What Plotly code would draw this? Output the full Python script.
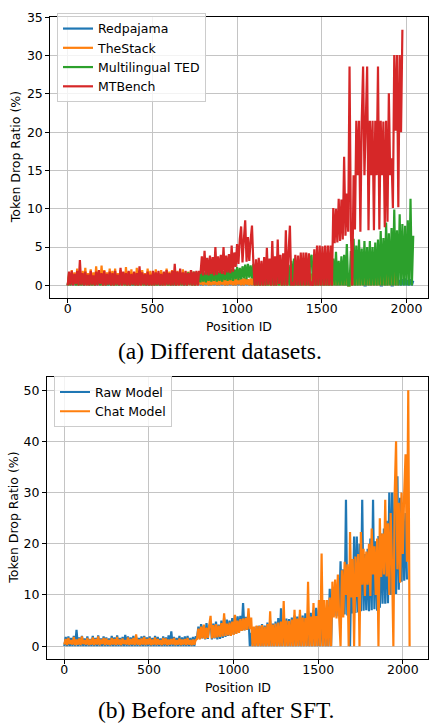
import plotly.graph_objects as go

# Token positions sampled every 8 tokens (0 ... 2040)
positions = list(range(0, 2048, 8))

# ---- (a) Token drop ratio (%) per dataset ----
redpajama = [
    0, 1.4, 0, 1.2, 0, 1.5, 0, 1.3, 0, 1.1, 0, 1.4, 0, 1.2, 0, 1.5,
    0, 1.3, 0, 1.5, 0, 1.2, 0, 1.4, 0, 1.6, 0, 1.3, 0, 1.2, 0, 1.4,
    0, 1.2, 0, 1.4, 0, 1.3, 0, 1.5, 0, 1.2, 0, 1.4, 0, 1.3, 0, 1.1,
    0, 1.4, 0, 1.2, 0, 1.5, 0, 1.3, 0, 1.4, 0, 1.2, 0, 1.5, 0, 1.3,
    0, 1.3, 0, 1.4, 0, 1.2, 0, 1.5, 0, 1.3, 0, 1.4, 0, 1.2, 0, 1.3,
    0, 1.2, 0, 1.4, 0, 1.3, 0, 1.2, 0, 1.4, 0, 1.3, 0, 1.2, 0, 1.1,
    0, 0.8, 0, 0.7, 0, 0.9, 0, 0.8, 0, 0.7, 0, 0.9, 0, 0.8, 0, 0.7,
    0, 0.9, 0, 0.8, 0, 0.7, 0, 0.9, 0, 0.8, 0, 0.7, 0, 0.9, 0, 0.8,
    0, 0.7, 0, 0.9, 0, 0.8, 0, 0.7, 0, 0.9, 0, 0.8, 0, 0.7, 0, 0.9,
    0, 0.8, 0, 0.7, 0, 0.9, 0, 0.8, 0, 0.7, 0, 0.8, 0, 0.9, 0, 0.7,
    0, 0.9, 0, 0.8, 0, 0.7, 0, 0.9, 0, 0.8, 0, 0.7, 0, 0.8, 0, 0.9,
    0, 0.8, 0, 0.9, 0, 0.7, 0, 0.8, 0, 0.9, 0, 0.7, 0, 0.8, 0, 0.9,
    0, 0.7, 0, 0.8, 0, 0.9, 0, 0.7, 0, 0.8, 0, 0.9, 0, 0.7, 0, 0.8,
    0, 0.9, 0, 0.8, 0, 0.7, 0, 0.9, 0, 0.8, 0.9, 0, 0, 0.8, 0, 0.7,
    0, 0.8, 0, 0.9, 0, 0.7, 1.0, 0, 0, 0.8, 0, 0.7, 0, 0.9, 1.1, 0,
    0, 0.8, 0, 0.9, 0, 0.7, 0, 0.8, 0, 0.9, 0, 0.7, 0, 0.8, 0, 0.6,
]

thestack = [
    0, 1.6, 0, 2.0, 0.1, 1.7, 0, 2.2, 0, 1.5, 0, 1.9, 0.1, 2.3, 0, 1.6,
    0, 2.1, 0, 1.7, 0, 2.5, 0.1, 1.8, 0, 2.6, 0, 2.0, 0, 1.7, 0.1, 2.2,
    0, 1.9, 0, 2.2, 0, 1.6, 0.1, 2.0, 0, 1.7, 0, 2.4, 0, 1.8, 0, 2.1,
    0.1, 1.7, 0, 2.3, 0, 1.9, 0, 2.0, 0, 1.6, 0.1, 2.2, 0, 1.9, 0, 1.7,
    0, 2.1, 0, 1.6, 0.1, 2.0, 0, 1.7, 0, 2.2, 0, 1.8, 0, 2.0, 0.1, 1.6,
    0, 1.9, 0, 1.6, 0, 2.1, 0.1, 1.7, 0, 1.8, 0, 2.0, 0, 1.6, 0, 1.8,
    0, 1.5, 0.1, 0.8, 0, 0.9, 0.1, 0.7, 0, 0.9, 0, 0.8, 0.1, 1.0, 0, 0.8,
    0, 0.9, 0.1, 0.8, 0, 1.0, 0, 0.9, 0.1, 0.8, 0, 0.9, 0, 1.0, 0.1, 0.9,
    0, 0.9, 0, 1.0, 0.1, 0.8, 0, 0.9, 0, 1.0, 0, 0.7, 0, 0.8, 0, 0.9,
    0, 0.8, 0, 0.9, 0, 0.7, 0, 0.8, 0, 0.9, 0, 0.8, 0, 0.7, 0, 0.9,
    0, 0.8, 0, 0.9, 0, 1.8, 0, 1.2, 0, 0.9, 0, 0.8, 0, 0.9, 0, 0.8,
    0, 0.9, 0, 1.3, 1.5, 0, 1.1, 0, 0.9, 0, 0.8, 0, 0.9, 0, 0.8, 0,
    0.9, 0, 0.8, 0, 1.4, 0, 1.2, 0, 1.6, 0, 1.3, 0, 1.1, 0, 1.4, 0,
    0, 1.2, 0, 1.5, 0, 1.0, 0, 3.0, 0, 1.3, 0, 1.4, 0, 1.8, 0, 1.2,
    0, 1.1, 0, 1.5, 0, 1.3, 0, 1.2, 0, 1.6, 0, 2.0, 0, 3.2, 0, 2.6,
    0, 2.2, 0, 1.4, 0,
]

multilingual_ted = [
    0, 1.2, 0, 1.0, 0.1, 1.3, 0, 0.9, 0, 1.2, 0, 1.1, 0, 1.0, 0.1, 1.3,
    0, 1.1, 0, 1.2, 0, 0.9, 0.1, 1.2, 0, 1.0, 0, 1.3, 0, 1.1, 0, 1.2,
    0, 1.0, 0, 1.2, 0, 1.3, 0, 1.1, 0.1, 1.2, 0, 1.0, 0, 1.3, 0, 1.1,
    0, 1.2, 0, 1.1, 0, 1.3, 0.1, 1.0, 0, 1.2, 0, 1.1, 0, 1.3, 0, 1.2,
    0, 1.1, 0, 1.3, 0, 1.2, 0, 1.4, 0.1, 1.2, 0, 1.3, 0, 1.5, 0, 1.4,
    0, 1.5, 0.1, 1.4, 0, 1.6, 0, 1.5, 0, 1.7, 0.1, 1.6, 0, 1.8, 0, 1.7,
    0.2, 1.6, 0.4, 1.9, 0.5, 1.7, 0.4, 2.0, 0.6, 1.8, 0.5, 1.9, 0.6, 2.1, 0.5, 1.8,
    0.6, 2.0, 0.5, 1.9, 0.7, 2.1, 0.6, 2.0, 0.7, 2.2, 0.6, 2.1, 0.8, 2.4, 0.7, 2.3,
    0.8, 2.5, 0.9, 2.7, 0.8, 2.8, 1.0, 2.6, 0.9, 2.8, 0, 2.2, 0, 2.5, 0, 2.3,
    0, 2.6, 0, 2.4, 0, 2.8, 0, 2.5, 0, 2.7, 0, 2.9, 0, 2.6, 0, 2.8,
    0, 3.0, 0, 2.7, 0, 3.2, 0, 3.5, 0, 3.1, 0, 3.3, 0, 2.9, 0, 3.2,
    0, 3.0, 0, 3.4, 4.0, 0, 3.6, 0, 3.2, 0, 3.5, 0, 3.3, 0, 3.6, 0,
    3.4, 0, 3.7, 0, 3.5, 0, 4.4, 0, 3.2, 0, 3.8, 0, 4.0, 0, 5.4, 0,
    0, 4.5, 0, 6.1, 0, 5.2, 0, 6.0, 0, 4.8, 0, 5.8, 0, 5.0, 0, 5.8,
    0, 5.0, 0, 5.6, 0, 6.0, 0, 7.1, 0, 6.2, 0, 8.2, 0, 6.8, 0, 7.5,
    0, 9.9, 0, 7.2, 0, 9.3, 0, 8.0, 0, 7.8, 0, 8.5, 0, 11.3, 0, 6.5,
]

mtbench = [
    0, 1.8, 0.1, 1.9, 0, 1.5, 0.2, 1.9, 0, 3.3, 0.1, 1.6, 0, 1.8, 0, 1.4,
    0, 1.9, 0.1, 1.3, 0, 1.8, 0, 2.0, 0.2, 1.6, 0, 1.9, 0, 1.5, 0.1, 1.8,
    0, 1.6, 0, 1.9, 0.1, 1.4, 0, 2.3, 0, 1.8, 0.1, 1.6, 0, 1.9, 0, 1.5,
    0.1, 1.8, 0, 1.6, 0, 2.5, 0, 1.7, 0.1, 1.5, 0, 1.8, 0, 1.4, 0, 1.9,
    0, 1.7, 0.1, 1.9, 0, 1.5, 0, 1.8, 0, 2.0, 0.1, 1.6, 0, 1.9, 0, 2.8,
    0, 1.8, 0, 2.2, 0.1, 1.7, 0, 1.9, 0, 1.6, 0.1, 2.0, 0, 1.8, 0, 1.9,
    0, 1.9, 1.5, 3.8, 1.3, 4.5, 1.4, 3.6, 1.3, 3.9, 1.5, 3.7, 1.3, 5.0, 1.4, 3.8,
    1.6, 4.0, 1.5, 5.0, 1.4, 3.9, 1.7, 4.1, 1.6, 5.2, 1.8, 4.3, 2.4, 5.4, 2.8, 6.0,
    7.7, 3.0, 6.0, 8.5, 3.1, 6.3, 3.2, 5.9, 7.8, 3.0, 0, 3.4, 0, 3.6, 0, 3.2,
    0, 3.7, 0, 4.9, 0.1, 3.5, 0, 5.8, 0, 3.8, 0, 6.0, 0.2, 4.0, 0, 4.2,
    0, 7.2, 0, 4.3, 7.8, 0, 0.4, 0, 4.0, 0, 3.9, 0, 4.3, 0, 4.3, 0,
    4.3, 0, 4.2, 0, 0.3, 0, 4.7, 0, 5.2, 0, 5.2, 0, 5.1, 0, 5.2, 0,
    5.2, 0, 5.2, 0, 10.1, 5.5, 10.0, 5.6, 11.3, 5.8, 11.2, 6.0, 16.8, 6.5, 12.0, 7.0,
    28.6, 7.1, 0, 14.4, 7.3, 21.5, 14.4, 21.5, 7.0, 21.5, 28.6, 14.4, 21.5, 28.6, 7.2, 21.5,
    14.4, 21.5, 7.2, 21.5, 14.4, 28.6, 7.3, 21.5, 14.4, 21.4, 7.6, 21.5, 8.3, 25.1, 14.4, 16.6,
    10.1, 30.1, 20.2, 30.1, 10.2, 30.1, 20.0, 33.4,
]

# ---- (b) Token drop ratio (%) before / after SFT ----
raw_model = [
    0, 1.8, 0, 1.9, 0, 1.6, 0, 2.0, 0, 3.2, 0, 1.7, 0, 2.0, 0, 1.5,
    0, 1.9, 0, 1.4, 0, 2.0, 0, 1.6, 0, 2.1, 0, 1.5, 0, 1.9, 0, 1.7,
    0, 1.5, 0, 2.0, 0, 1.7, 0, 2.1, 0, 1.6, 0, 1.8, 0, 2.2, 0, 1.9,
    0, 1.7, 0, 2.0, 0, 1.8, 0, 1.6, 0, 1.9, 0, 2.0, 0, 1.7, 0, 1.9,
    0, 1.6, 0, 2.0, 0, 1.8, 0, 1.5, 0, 1.9, 0, 1.7, 0, 2.1, 0, 2.9,
    0, 1.8, 0, 1.6, 0, 2.0, 0, 1.7, 0, 1.9, 0, 2.0, 0, 1.6, 0, 1.8,
    0, 1.9, 1.6, 3.8, 1.4, 4.3, 1.5, 4.0, 1.3, 4.5, 1.4, 3.9, 4.6, 1.3, 4.4, 1.5,
    4.8, 1.3, 4.2, 1.4, 5.0, 1.6, 5.6, 1.8, 5.2, 2.0, 5.0, 2.1, 5.5, 2.3, 6.0, 2.5,
    5.8, 2.8, 5.9, 3.0, 8.4, 3.1, 5.7, 3.2, 6.0, 0, 2.6, 0, 3.6, 0, 3.9, 0,
    4.0, 0, 4.3, 0, 4.0, 0, 4.6, 0, 5.0, 0, 4.4, 0, 4.8, 0, 5.5, 0,
    7.4, 0, 5.2, 0, 5.4, 0, 5.3, 0, 5.6, 0, 6.0, 0, 5.8, 0, 6.2, 0,
    6.0, 0, 6.4, 0, 6.8, 0, 6.5, 0, 7.0, 0, 7.5, 0, 7.2, 0, 7.8, 0,
    7.5, 0, 8.0, 0, 11.2, 0, 11.2, 6.0, 11.5, 5.8, 12.0, 6.0, 16.6, 5.8, 15.0, 6.2,
    28.6, 6.0, 15.5, 0, 16.0, 6.4, 21.4, 6.5, 21.4, 6.6, 20.0, 6.8, 28.6, 6.9, 18.0, 7.0,
    19.0, 6.8, 21.0, 7.0, 28.6, 7.2, 20.5, 6.9, 21.5, 7.5, 22.0, 8.3, 23.0, 8.3, 24.5, 8.4,
    30.0, 10.0, 30.0, 10.0, 30.0, 10.2, 33.2, 11.0, 29.0, 12.6, 28.0, 12.8, 26.0, 13.0,
]

chat_model = [
    0.3, 1.4, 0.2, 1.6, 0.4, 1.2, 0.3, 1.8, 0.2, 1.3, 0.3, 1.5, 0.2, 1.9, 0.4, 1.2,
    0.3, 1.6, 0.2, 1.3, 0.3, 1.7, 0.2, 1.4, 0.3, 1.9, 0.2, 1.3, 0.4, 1.6, 0.2, 1.5,
    0.3, 1.2, 0.2, 1.6, 0.3, 1.4, 0.2, 1.8, 0.3, 1.3, 0.2, 1.5, 0.4, 1.2, 0.3, 1.7,
    0.2, 1.4, 0.3, 1.6, 0.2, 2.3, 0.3, 1.3, 0.2, 1.5, 0.3, 1.8, 0.2, 1.4, 0.3, 1.6,
    0.2, 1.3, 0.3, 1.7, 0.2, 1.4, 0.3, 1.2, 0.2, 1.6, 0.3, 1.5, 0.2, 1.3, 0.3, 1.4,
    0.3, 1.6, 0.2, 1.2, 0.3, 1.5, 0.2, 1.3, 0.3, 1.4, 0.2, 1.6, 0.3, 1.2, 0.2, 1.3,
    0.3, 1.2, 1.4, 3.4, 1.3, 3.8, 1.5, 4.2, 1.4, 3.6, 1.6, 4.0, 5.9, 1.5, 4.1, 1.6,
    4.3, 1.7, 4.0, 1.8, 4.5, 1.9, 6.4, 2.0, 4.4, 2.1, 4.6, 2.0, 4.8, 2.2, 6.1, 2.4,
    5.0, 2.6, 5.3, 3.0, 5.4, 3.1, 5.5, 3.2, 7.4, 3.3, 5.6, 0, 3.8, 0, 4.0, 0,
    3.9, 0, 4.1, 0, 3.8, 0, 4.3, 0, 6.8, 0, 4.2, 0, 4.4, 0, 4.6, 0,
    4.8, 0, 8.8, 0, 5.0, 0, 4.9, 0, 5.2, 0, 7.1, 0, 5.4, 0, 7.1, 0,
    5.6, 0, 5.5, 0, 12.6, 0, 5.8, 0, 8.4, 0, 5.9, 0, 9.0, 0, 18.1, 0,
    9.0, 0, 9.0, 0, 9.5, 0, 12.6, 5.6, 13.0, 5.4, 14.0, 5.5, 0, 14.8, 5.6, 16.5,
    10.0, 16.0, 0, 22.3, 9.5, 17.0, 0, 17.5, 9.6, 18.0, 0, 22.3, 12.0, 19.0, 9.8, 18.5,
    12.0, 20.0, 9.8, 23.0, 14.0, 19.5, 10.0, 21.0, 0, 25.0, 13.5, 22.0, 14.0, 28.6, 13.6, 24.0,
    10.0, 26.0, 16.0, 0, 30.0, 40.0, 15.0, 28.0, 12.4, 30.0, 18.0, 30.0, 37.5, 16.5, 50.0, 0,
]

x_ticks = [0, 500, 1000, 1500, 2000]
y_ticks_a = [0, 5, 10, 15, 20, 25, 30, 35]
y_ticks_b = [0, 10, 20, 30, 40, 50]

TAB_BLUE, TAB_ORANGE, TAB_GREEN, TAB_RED = "#1f77b4", "#ff7f0e", "#2ca02c", "#d62728"

W, H = 429, 725
SANS = "DejaVu Sans"
SERIF = "Liberation Serif"
FS = 12.5
LW = 2.2  # stroke width of the dense per-token traces

fig = go.Figure()

panel_a = [
    ("Redpajama", redpajama, TAB_BLUE),
    ("TheStack", thestack, TAB_ORANGE),
    ("Multilingual TED", multilingual_ted, TAB_GREEN),
    ("MTBench", mtbench, TAB_RED),
]
for name, vals, color in panel_a:
    fig.add_trace(go.Scatter(
        x=positions[:len(vals)], y=vals, name=name, mode="lines",
        line=dict(color=color, width=LW, simplify=False),
        xaxis="x", yaxis="y", legend="legend",
    ))

panel_b = [
    ("Raw Model", raw_model, TAB_BLUE),
    ("Chat Model", chat_model, TAB_ORANGE),
]
for name, vals, color in panel_b:
    fig.add_trace(go.Scatter(
        x=positions[:len(vals)], y=vals, name=name, mode="lines",
        line=dict(color=color, width=LW, simplify=False),
        xaxis="x2", yaxis="y2", legend="legend2",
    ))


def px_x(p):
    return p / W


def px_y(p):
    return 1 - p / H


axis_common = dict(
    showline=True, linecolor="black", linewidth=1, mirror=True,
    ticks="outside", ticklen=4, tickwidth=1, tickcolor="black",
    showgrid=True, gridcolor="#c4c4c4", gridwidth=1, zeroline=False,
    tickfont=dict(family=SANS, size=FS, color="black"),
)
x_axis_extra = dict(ticklabelstandoff=-5)

legend_common = dict(
    xanchor="left", yanchor="top",
    bgcolor="rgba(255,255,255,0.8)", bordercolor="#cccccc", borderwidth=1,
    font=dict(family=SANS, size=FS, color="black"), tracegroupgap=0,
)

fig.update_layout(
    width=W, height=H,
    margin=dict(l=0, r=0, t=0, b=0),
    paper_bgcolor="white", plot_bgcolor="white",
    showlegend=True,
    xaxis=dict(domain=[px_x(50.3), px_x(428.3)], range=[-102.7, 2129],
               tickvals=x_ticks, anchor="y", **axis_common, **x_axis_extra),
    yaxis=dict(domain=[px_y(294), px_y(10)], range=[-1.67, 35.07],
               tickvals=y_ticks_a, anchor="x", **axis_common),
    xaxis2=dict(domain=[px_x(47), px_x(428.3)], range=[-102.4, 2150.4],
                tickvals=x_ticks, anchor="y2", **axis_common, **x_axis_extra),
    yaxis2=dict(domain=[px_y(658.3), px_y(374)], range=[-2.5, 52.5],
                tickvals=y_ticks_b, anchor="x2", **axis_common),
    legend=dict(x=px_x(57), y=px_y(6), **legend_common),
    legend2=dict(x=px_x(54), y=px_y(373), **legend_common),
)

annotations = [
    dict(text="Token Drop Ratio (%)", x=px_x(15.7), y=px_y(152), textangle=-90,
         font=dict(family=SANS, size=FS, color="black")),
    dict(text="Position ID", x=px_x(239), y=px_y(323),
         font=dict(family=SANS, size=FS, color="black")),
    dict(text="(a) Different datasets.", x=px_x(220), y=px_y(347),
         font=dict(family=SERIF, size=23.5, color="black")),
    dict(text="Token Drop Ratio (%)", x=px_x(12.7), y=px_y(516), textangle=-90,
         font=dict(family=SANS, size=FS, color="black")),
    dict(text="Position ID", x=px_x(237.6), y=px_y(686.7),
         font=dict(family=SANS, size=FS, color="black")),
    dict(text="(b) Before and after SFT.", x=px_x(216), y=px_y(710),
         font=dict(family=SERIF, size=23.5, color="black")),
]
for a in annotations:
    a.update(xref="paper", yref="paper", xanchor="center", yanchor="middle",
             showarrow=False)
fig.update_layout(annotations=annotations)

fig.write_html("out.html")
